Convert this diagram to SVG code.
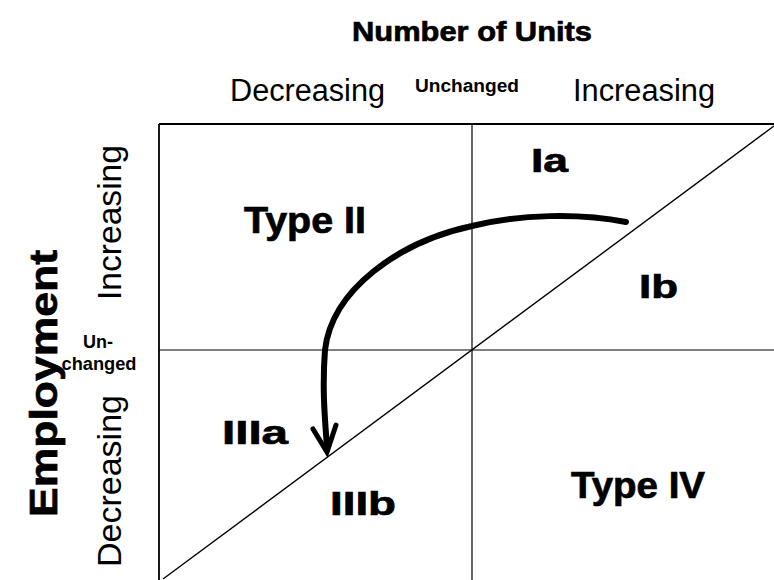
<svg xmlns="http://www.w3.org/2000/svg" width="774" height="580" viewBox="0 0 774 580">
<style>
.t{font-family:"Liberation Sans",Arial,sans-serif;fill:#000}
.b{font-weight:bold}
.h{stroke:#000;stroke-width:0.7}
.ln{stroke:#000;fill:none}
</style>
<rect width="774" height="580" fill="#fff"/>
<g id="frame">
<line class="ln" x1="159" y1="124" x2="774" y2="124" stroke-width="1.8"/>
<line class="ln" x1="159" y1="124" x2="159" y2="580" stroke-width="1.8"/>
<line class="ln" x1="472" y1="124" x2="472" y2="580" stroke-width="1.2"/>
<line class="ln" x1="159" y1="350" x2="774" y2="350" stroke-width="1.2"/>
<line class="ln" x1="163" y1="579" x2="774" y2="126" stroke-width="1.4"/>
</g>
<g id="axis-titles">
<text class="t b h" x="472" y="41" font-size="28" text-anchor="middle" textLength="240" lengthAdjust="spacingAndGlyphs">Number of Units</text>
<text class="t" x="230" y="101" font-size="31" textLength="155" lengthAdjust="spacingAndGlyphs">Decreasing</text>
<text class="t b" x="415" y="92" font-size="18" textLength="104" lengthAdjust="spacingAndGlyphs">Unchanged</text>
<text class="t" x="573" y="101" font-size="31" textLength="142" lengthAdjust="spacingAndGlyphs">Increasing</text>
<text class="t b h" transform="translate(57,517) rotate(-90)" font-size="38" textLength="267" lengthAdjust="spacingAndGlyphs">Employment</text>
<text class="t" transform="translate(121,300) rotate(-90)" font-size="33" textLength="155" lengthAdjust="spacingAndGlyphs">Increasing</text>
<text class="t" transform="translate(121,567) rotate(-90)" font-size="33" textLength="172" lengthAdjust="spacingAndGlyphs">Decreasing</text>
<text class="t b" x="98" y="348" font-size="18" text-anchor="middle">Un-</text>
<text class="t b" x="99" y="370" font-size="18" text-anchor="middle" textLength="75" lengthAdjust="spacingAndGlyphs">changed</text>
</g>
<g id="labels">
<text class="t b h" x="244" y="233" font-size="36" textLength="122" lengthAdjust="spacingAndGlyphs">Type II</text>
<text class="t b h" x="531" y="172" font-size="34" textLength="37" lengthAdjust="spacingAndGlyphs">Ia</text>
<text class="t b h" x="639" y="298" font-size="34" textLength="39" lengthAdjust="spacingAndGlyphs">Ib</text>
<text class="t b h" x="222" y="444" font-size="34" textLength="66" lengthAdjust="spacingAndGlyphs">IIIa</text>
<text class="t b h" x="330" y="515" font-size="34" textLength="66" lengthAdjust="spacingAndGlyphs">IIIb</text>
<text class="t b h" x="571" y="498" font-size="36" textLength="134" lengthAdjust="spacingAndGlyphs">Type IV</text>
</g>
<g id="connectors">
<path class="ln" stroke-width="6" stroke-linecap="round" d="M626,222 C580,213 520,214 472,226 C398,242 332,290 325,350 C322,390 325,420 327,447"/>
<polyline class="ln" stroke-width="5" stroke-linecap="round" stroke-linejoin="miter" points="313,429 327,452 336,425"/>
</g>
</svg>
